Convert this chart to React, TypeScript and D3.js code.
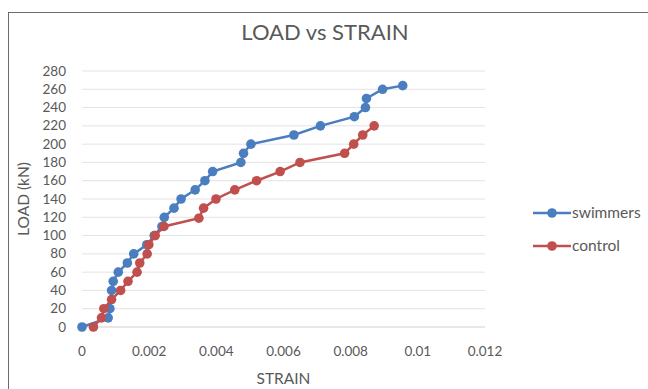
import * as d3 from "d3";
import React from "react";

// strain values and loads (kN)
const swimmersStrain = [
  0, 0.00078, 0.00083, 0.00088, 0.00093, 0.00108, 0.00135, 0.00154, 0.00193,
  0.00215, 0.00238, 0.00245, 0.00274, 0.00295, 0.00337, 0.00366, 0.00389,
  0.00473, 0.00481, 0.00503, 0.00631, 0.0071, 0.00811, 0.00844, 0.00847,
  0.00895, 0.00955,
];
const swimmersLoad = [
  0, 10, 20, 40, 50, 60, 70, 80, 90, 100, 110, 120, 130, 140, 150, 160, 170,
  180, 190, 200, 210, 220, 230, 240, 250, 260, 264,
];
const controlStrain = [
  0.00034, 0.00058, 0.00065, 0.00088, 0.00115, 0.00137, 0.00164, 0.00172,
  0.00194, 0.00199, 0.00218, 0.00244, 0.00348, 0.00362, 0.00399, 0.00455,
  0.0052, 0.0059, 0.00649, 0.00782, 0.00809, 0.00836, 0.0087,
];
const controlLoad = [
  0, 10, 20, 30, 40, 50, 60, 70, 80, 90, 100, 110, 119, 130, 140, 150, 160,
  170, 180, 190, 200, 210, 220,
];
const xTicks = [0, 0.002, 0.004, 0.006, 0.008, 0.01, 0.012];
const yTicks = d3.range(0, 281, 20);

const seriesNames = ["swimmers", "control"];
const seriesColors = ["#4a7ebf", "#c0504d"];

type Pt = { x: number; y: number };

const FONT = "Lato, 'Liberation Sans', sans-serif";
const TEXT = "#595959";

export default function App(): React.ReactElement {
  const width = 648;
  const height = 389;
  const margin = { left: 82, right: 163, top: 71, bottom: 62 };
  const innerW = width - margin.left - margin.right;
  const innerH = height - margin.top - margin.bottom;

  const x = d3.scaleLinear().domain([0, 0.012]).range([0, innerW]);
  const y = d3.scaleLinear().domain([0, 280]).range([innerH, 0]);

  const series: Pt[][] = [
    swimmersStrain.map((s, i) => ({ x: s, y: swimmersLoad[i] })),
    controlStrain.map((s, i) => ({ x: s, y: controlLoad[i] })),
  ];

  const line = d3
    .line<Pt>()
    .x((d) => x(d.x))
    .y((d) => y(d.y));

  return (
    <svg
      width={width}
      height={height}
      style={{ position: "absolute", left: 0, top: 0, background: "#fff" }}
      fontFamily={FONT}
    >
      {/* chart frame */}
      <rect x={8.5} y={12.5} width={700} height={400} fill="#fff" stroke="#6b6b6b" />

      <text x={325} y={40} textAnchor="middle" fontSize={22} fill={TEXT}>
        LOAD vs STRAIN
      </text>

      <g transform={`translate(${margin.left},${margin.top})`}>
        {/* horizontal gridlines */}
        {yTicks.map((t) => (
          <g key={`yt-${t}`} transform={`translate(0,${y(t)})`}>
            <line
              x1={0}
              x2={innerW}
              stroke={t === 0 ? "#d0d0d0" : "#e3e3e3"}
              strokeWidth={1}
            />
            <text x={-16} y={4.5} textAnchor="end" fontSize={13.5} fill={TEXT}>
              {t}
            </text>
          </g>
        ))}

        {xTicks.map((t) => (
          <text
            key={`xt-${t}`}
            x={x(t)}
            y={innerH + 29}
            textAnchor="middle"
            fontSize={13.5}
            fill={TEXT}
          >
            {t}
          </text>
        ))}

        <text
          x={innerW / 2}
          y={innerH + 57}
          textAnchor="middle"
          fontSize={15.5}
          fill={TEXT}
        >
          STRAIN
        </text>
        <text
          transform={`translate(-53,${innerH / 2}) rotate(-90)`}
          textAnchor="middle"
          fontSize={15.5}
          fill={TEXT}
        >
          LOAD (kN)
        </text>

        {series.map((s, i) => (
          <g key={seriesNames[i]}>
            <path
              d={line(s) ?? ""}
              fill="none"
              stroke={seriesColors[i]}
              strokeWidth={2.5}
            />
            {s.map((p, j) => (
              <circle
                key={j}
                cx={x(p.x)}
                cy={y(p.y)}
                r={4.8}
                fill={seriesColors[i]}
              />
            ))}
          </g>
        ))}
      </g>

      {/* legend */}
      {seriesNames.map((n, i) => (
        <g key={`leg-${n}`} transform={`translate(533,${213 + i * 33})`}>
          <line x1={0} x2={38} stroke={seriesColors[i]} strokeWidth={2.5} />
          <circle cx={19} cy={0} r={4.8} fill={seriesColors[i]} />
          <text x={39} y={5} fontSize={15.5} fill={TEXT}>
            {n}
          </text>
        </g>
      ))}
    </svg>
  );
}
